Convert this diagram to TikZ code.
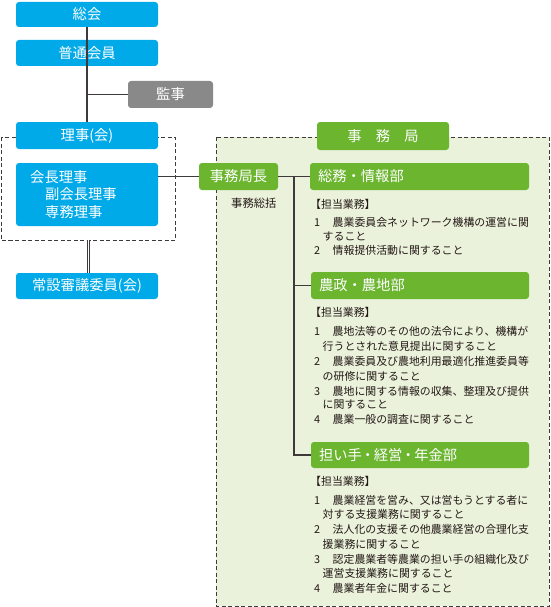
\documentclass[tikz,border=0pt]{standalone}
\usepackage{fontspec}
\setmainfont{Noto Sans CJK JP}
\definecolor{cyanb}{HTML}{00A9E8}
\definecolor{greenb}{HTML}{6BB52F}
\definecolor{lgreen}{HTML}{EBF2DC}
\definecolor{grayb}{HTML}{898989}
\definecolor{linec}{HTML}{3E3A39}
\definecolor{txt}{HTML}{231815}
\newcommand{\numbx}[1]{\makebox[18.5pt][l]{#1}}
\newcommand{\ndot}{\kern-1.2pt・\kern-1.2pt}
\begin{document}
\begin{tikzpicture}[x=1pt,y=-1pt,
  box/.style={rounded corners=3pt, inner sep=0pt, text=white, font=\fontsize{14.3}{17}\selectfont},
  cbox/.style={box, fill=cyanb, minimum width=142pt},
  gbox/.style={box, fill=greenb},
  conn/.style={draw=linec, line width=1.3pt},
  body/.style={anchor=west, inner sep=0pt, text=txt, font=\fontsize{10.9}{14}\selectfont},
  frame/.style={draw=linec, line width=0.9pt, dash pattern=on 4pt off 2.5pt}
]
\useasboundingbox (0,0) rectangle (550,607);
% frames
\filldraw[frame, fill=lgreen] (216,137) rectangle (549,606);
\draw[frame] (1,137) rectangle (175,240);
% left column boxes
\node[cbox, minimum height=25pt] (sokai) at (87,14.5) {総会};
\node[cbox, minimum height=26pt] (futsu) at (87,53) {普通会員};
\node[box, fill=grayb, minimum width=85pt, minimum height=27pt] (kanji) at (170.5,94.5) {監事};
\node[cbox, minimum height=27pt] (riji) at (87,135.5) {理事(会)};
\node[cbox, minimum height=63pt] (kaicho) at (87,194.5) {};
\node[anchor=west, align=left, inner sep=0pt, text=white, font=\fontsize{14.3}{17.5}\selectfont] (kaichotext) at (30,194.5) {会長理事\\\hspace{15pt}副会長理事\\\hspace{15pt}専務理事};
\node[cbox, minimum height=26pt] (joset) at (87,286) {常設審議委員(会)};
% right column boxes
\node[gbox, minimum width=132pt, minimum height=28pt] (jimukyoku) at (383,136) {事　務　局};
\node[gbox, minimum width=79pt, minimum height=27pt] (kyokucho) at (238.5,176.5) {事務局長};
\node[anchor=west, inner sep=0pt, text=txt, font=\fontsize{11.3}{14}\selectfont] (sokatsu) at (231,203) {事務総括};
\node[gbox, text width=203pt, inner xsep=8pt, align=left, minimum height=27pt] (somu) at (419.5,176.5) {総務・情報部};
\node[gbox, text width=202pt, inner xsep=8pt, align=left, minimum height=27pt] (nosei) at (420,285.5) {農政・農地部};
\node[gbox, text width=202pt, inner xsep=8pt, align=left, minimum height=26pt] (ninaite) at (420,455) {担い手\ndot 経営\ndot 年金部};
% connectors
\draw[conn] (sokai.south) -- (riji.north);
\draw[conn] (kanji.west) -- (kanji.west -| sokai.south);
\coordinate (rframebot) at (88.5,240);
\draw[draw=linec, line width=1pt, double=white, double distance=1.6pt] (rframebot) -- (rframebot |- joset.north);
\draw[conn] (kaicho.east |- kyokucho.west) -- (kyokucho.west);
\draw[conn] (kyokucho.east) -- (somu.west);
\coordinate (trunk) at (294,176.5);
\draw[conn] (trunk) |- (ninaite.west);
\draw[conn] (trunk |- nosei.west) -- (nosei.west);
% section 1
\node[body] (t1) at (310,204) {【担当業務】};
\node[body] (s1a) at (314,222) {\numbx{1}農業委員会ネットワーク機構の運営に関};
\node[body] (s1b) at (322.5,236) {すること};
\node[body] (s1c) at (314,250) {\numbx{2}情報提供活動に関すること};
% section 2
\node[body] (t2) at (310,312) {【担当業務】};
\node[body] (s2a) at (314,331) {\numbx{1}農地法等のその他の法令により、機構が};
\node[body] (s2b) at (322.5,346) {行うとされた意見提出に関すること};
\node[body] (s2c) at (314,361) {\numbx{2}農業委員及び農地利用最適化推進委員等};
\node[body] (s2d) at (322.5,376) {の研修に関すること};
\node[body] (s2e) at (314,391) {\numbx{3}農地に関する情報の収集、整理及び提供};
\node[body] (s2f) at (322.5,405) {に関すること};
\node[body] (s2g) at (314,419) {\numbx{4}農業一般の調査に関すること};
% section 3
\node[body] (t3) at (310,481) {【担当業務】};
\node[body] (s3a) at (314,500) {\numbx{1}農業経営を営み、又は営もうとする者に};
\node[body] (s3b) at (322.5,514) {対する支援業務に関すること};
\node[body] (s3c) at (314,529) {\numbx{2}法人化の支援その他農業経営の合理化支};
\node[body] (s3d) at (322.5,544) {援業務に関すること};
\node[body] (s3e) at (314,559) {\numbx{3}認定農業者等農業の担い手の組織化及び};
\node[body] (s3f) at (322.5,573) {運営支援業務に関すること};
\node[body] (s3g) at (314,588) {\numbx{4}農業者年金に関すること};
\end{tikzpicture}
\end{document}
